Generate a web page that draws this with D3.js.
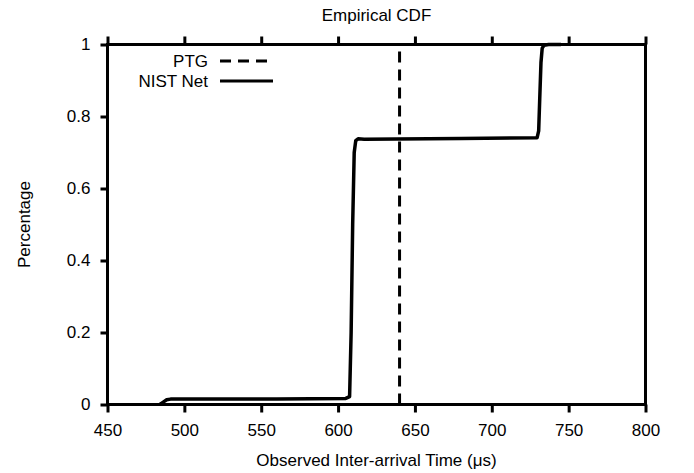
<!DOCTYPE html>
<html>
<head>
<meta charset="utf-8">
<script src="https://cdn.jsdelivr.net/npm/d3@7"></script>
<style>
  body { margin: 0; background: #fff; }
  svg text { font-family: "Liberation Sans", Arial, sans-serif; fill: #000; }
</style>
</head>
<body>
<div id="chart"></div>
<script>
// NIST Net empirical CDF
var nistX = [484, 486, 488.5, 491, 560, 605, 607.5, 608.5, 609.5, 610.5, 611.5, 613, 617, 680, 729.5, 730.5, 731.2, 732, 732.8, 734, 737, 745];
var nistY = [0, 0.006, 0.013, 0.015, 0.015, 0.017, 0.022, 0.2, 0.5, 0.7, 0.733, 0.738, 0.737, 0.739, 0.741, 0.76, 0.85, 0.95, 0.99, 0.998, 1, 1];
// PTG: constant inter-arrival time
var ptgX = [640, 640];
var ptgY = [0, 1];
var xTicks = [450, 500, 550, 600, 650, 700, 750, 800];
var yTicks = [0, 0.2, 0.4, 0.6, 0.8, 1];
var legendNames = ["PTG", "NIST Net"];

showchart("chart", 694, 473);

function showchart(container_id, width, height) {
	var left = 107.5, right = 645.5, top = 44.5, bottom = 404.5;
	var fs = 17;

	var svg = d3.select("#" + container_id)
				.append("svg")
				.attr("width", width)
				.attr("height", height);

	var x = d3.scaleLinear().domain([450, 800]).range([left, right]);
	var y = d3.scaleLinear().domain([0, 1]).range([bottom, top]);

	// axes
	var xAxis = svg.append("g")
				.attr("transform", "translate(0," + bottom + ")")
				.call(d3.axisBottom(x).tickValues(xTicks).tickSize(8).tickSizeOuter(0).tickPadding(8).tickFormat(d3.format("d")));
	var xTop = svg.append("g")
				.attr("transform", "translate(0," + top + ")")
				.call(d3.axisTop(x).tickValues(xTicks).tickSize(8).tickSizeOuter(0).tickFormat(""));
	var yAxis = svg.append("g")
				.attr("transform", "translate(" + left + ",0)")
				.call(d3.axisLeft(y).tickValues(yTicks).tickSize(7).tickSizeOuter(0).tickPadding(10).tickFormat(function (d) {
					return d3.format("")(+d.toFixed(1));
				}));

	[xAxis, xTop, yAxis].forEach(function (g) {
		g.select(".domain").remove();
		g.selectAll(".tick line").attr("stroke", "#000").attr("stroke-width", 3);
		g.selectAll(".tick text").attr("font-size", fs).attr("fill", "#000")
			.style("font-family", "'Liberation Sans', Arial, sans-serif");
	});
	xAxis.selectAll(".tick text").attr("dy", "0.9em");

	var line = d3.line()
				.x(function (d) { return x(d[0]); })
				.y(function (d) { return y(d[1]); });

	// PTG dashed line
	svg.append("path")
		.datum(d3.zip(ptgX, ptgY))
		.attr("d", line)
		.attr("fill", "none")
		.attr("stroke", "#000")
		.attr("stroke-width", 3)
		.attr("stroke-dasharray", "11,7");

	// NIST Net solid curve
	svg.append("path")
		.datum(d3.zip(nistX, nistY))
		.attr("d", line)
		.attr("fill", "none")
		.attr("stroke", "#000")
		.attr("stroke-width", 3.5)
		.attr("stroke-linejoin", "round");

	// frame
	svg.append("rect")
		.attr("x", left).attr("y", top)
		.attr("width", right - left).attr("height", bottom - top)
		.attr("fill", "none")
		.attr("stroke", "#000")
		.attr("stroke-width", 3);

	// legend
	var legend = svg.append("g");
	legendNames.forEach(function (name, i) {
		var ly = 61 + i * 20;
		legend.append("text")
			.attr("x", 208).attr("y", ly)
			.attr("dy", "0.35em")
			.attr("text-anchor", "end")
			.attr("font-size", fs)
			.text(name);
		legend.append("line")
			.attr("x1", 220).attr("x2", 273)
			.attr("y1", ly).attr("y2", ly)
			.attr("stroke", "#000")
			.attr("stroke-width", 3)
			.attr("stroke-dasharray", i == 0 ? "11,7" : null);
	});

	// titles
	svg.append("text")
		.attr("x", (left + right) / 2).attr("y", 21)
		.attr("text-anchor", "middle")
		.attr("font-size", fs)
		.text("Empirical CDF");
	svg.append("text")
		.attr("x", (left + right) / 2).attr("y", 466)
		.attr("text-anchor", "middle")
		.attr("font-size", fs)
		.text("Observed Inter-arrival Time (\u03bcs)");
	svg.append("text")
		.attr("transform", "translate(30," + ((top + bottom) / 2) + ") rotate(-90)")
		.attr("text-anchor", "middle")
		.attr("font-size", fs)
		.text("Percentage");
}
</script>
</body>
</html>
